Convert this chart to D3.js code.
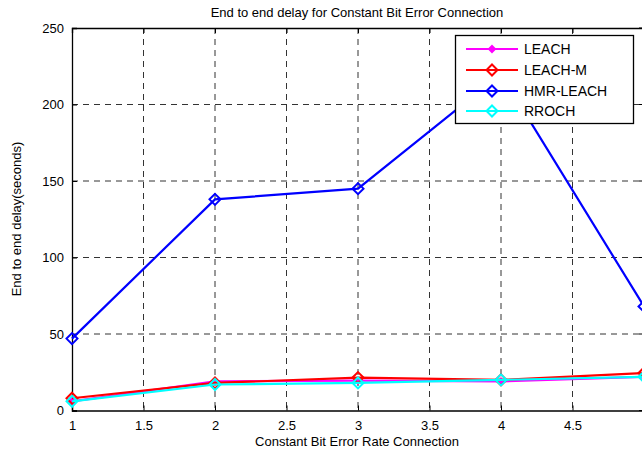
<!DOCTYPE html>
<html>
<head>
<meta charset="utf-8">
<script src="https://cdn.jsdelivr.net/npm/d3@7"></script>
<style>
  html, body { margin: 0; padding: 0; background: #fff; overflow: hidden; }
  svg { display: block; font-family: "Liberation Sans", Arial, Helvetica, sans-serif; }
</style>
</head>
<body>
<svg id="chart" width="642" height="456"></svg>
<script>
// Error-rate levels on the x axis
const errorRates = [1, 2, 3, 4, 5];

// End-to-end delay (seconds) per protocol
const leach    = [6, 19, 19.5, 19, 22];
const leachM   = [8, 18, 21.5, 20, 24.5];
const hmrLeach = [47, 138, 145, 220, 68];
const rroch    = [6, 17, 18, 20, 22];

const xTicks = [1, 1.5, 2, 2.5, 3, 3.5, 4, 4.5];
const yTicks = [0, 50, 100, 150, 200, 250];

const seriesNames = ["LEACH", "LEACH-M", "HMR-LEACH", "RROCH"];
const seriesColors = ["#ff00ff", "#ff0000", "#0000ff", "#00ffff"];
const seriesData = [leach, leachM, hmrLeach, rroch];

const svg = d3.select("#chart");
const plotL = 72, plotR = 644, plotT = 28, plotB = 410.5;

const x = d3.scaleLinear().domain([1, 5]).range([plotL, plotR]);
const y = d3.scaleLinear().domain([0, 250]).range([plotB, plotT]);

// Dashed grid
const grid = svg.append("g");
grid.selectAll("line.gx").data(xTicks.filter(t => t > 1)).enter().append("line")
  .attr("x1", d => x(d)).attr("x2", d => x(d))
  .attr("y1", plotT).attr("y2", plotB)
  .attr("stroke", "#333").attr("stroke-width", 1).attr("stroke-dasharray", "6,5");
grid.selectAll("line.gy").data(yTicks.filter(t => t > 0 && t < 250)).enter().append("line")
  .attr("x1", plotL).attr("x2", plotR)
  .attr("y1", d => y(d)).attr("y2", d => y(d))
  .attr("stroke", "#333").attr("stroke-width", 1).attr("stroke-dasharray", "6,5");

// Axes with inward ticks (MATLAB style)
const xAxis = d3.axisBottom(x).tickValues(xTicks).tickSize(-5).tickPadding(10).tickFormat(d3.format("~g"));
const yAxis = d3.axisLeft(y).tickValues(yTicks).tickSize(-5).tickPadding(8).tickFormat(d3.format("~g"));
const xTop = d3.axisTop(x).tickValues(xTicks).tickSize(-5).tickFormat("");

const gx = svg.append("g").attr("transform", `translate(0,${plotB})`).call(xAxis);
const gy = svg.append("g").attr("transform", `translate(${plotL},0)`).call(yAxis);
const gt = svg.append("g").attr("transform", `translate(0,${plotT})`).call(xTop);
[gx, gy, gt].forEach(g => {
  g.selectAll("path.domain").attr("stroke", "#000").attr("stroke-width", 1.3);
  g.selectAll(".tick line").attr("stroke", "#000");
  g.selectAll(".tick text").attr("fill", "#000").attr("font-size", 13)
    .attr("font-family", "'Liberation Sans', Arial, sans-serif");
});
// Right-side y ticks
svg.append("g").selectAll("line").data(yTicks).enter().append("line")
  .attr("x1", plotR).attr("x2", plotR - 5)
  .attr("y1", d => y(d)).attr("y2", d => y(d)).attr("stroke", "#000");

// Series lines and markers
const line = d3.line().x((d, i) => x(errorRates[i])).y(d => y(d));
const diamond = (cx, cy, r) => `M${cx},${cy - r}L${cx + r},${cy}L${cx},${cy + r}L${cx - r},${cy}Z`;

seriesData.forEach((vals, si) => {
  const c = seriesColors[si];
  const g = svg.append("g");
  g.append("path").attr("d", line(vals)).attr("fill", "none")
    .attr("stroke", c).attr("stroke-width", 2.2);
  g.selectAll("path.m").data(vals).enter().append("path")
    .attr("d", (d, i) => si === 0 ? diamond(x(errorRates[i]), y(d), 3) : diamond(x(errorRates[i]), y(d), 5.5))
    .attr("fill", si === 0 ? c : "none")
    .attr("stroke", c).attr("stroke-width", 2);
});

// Legend
const lg = svg.append("g");
lg.append("rect").attr("x", 455.5).attr("y", 35.5).attr("width", 178).attr("height", 88)
  .attr("fill", "#fff").attr("stroke", "#000").attr("stroke-width", 1.3);
const rowY = [49, 70, 91, 111];
seriesNames.forEach((name, i) => {
  const c = seriesColors[i];
  lg.append("line").attr("x1", 466).attr("x2", 518).attr("y1", rowY[i]).attr("y2", rowY[i])
    .attr("stroke", c).attr("stroke-width", 2.2);
  lg.append("path").attr("d", i === 0 ? diamond(492, rowY[i], 3) : diamond(492, rowY[i], 5.5))
    .attr("fill", i === 0 ? c : "none").attr("stroke", c).attr("stroke-width", 2);
  lg.append("text").attr("x", 524).attr("y", rowY[i] + 5).attr("font-size", 14)
    .attr("fill", "#000").text(name);
});

// Title and axis labels
svg.append("text").attr("x", 357).attr("y", 17).attr("text-anchor", "middle")
  .attr("font-size", 13).attr("fill", "#000").text("End to end delay for Constant Bit Error Connection");
svg.append("text").attr("x", 357).attr("y", 446).attr("text-anchor", "middle")
  .attr("font-size", 13).attr("fill", "#000").text("Constant Bit Error Rate Connection");
svg.append("text").attr("transform", "translate(21,219) rotate(-90)").attr("text-anchor", "middle")
  .attr("font-size", 13).attr("fill", "#000").text("End to end delay(seconds)");
</script>
</body>
</html>
